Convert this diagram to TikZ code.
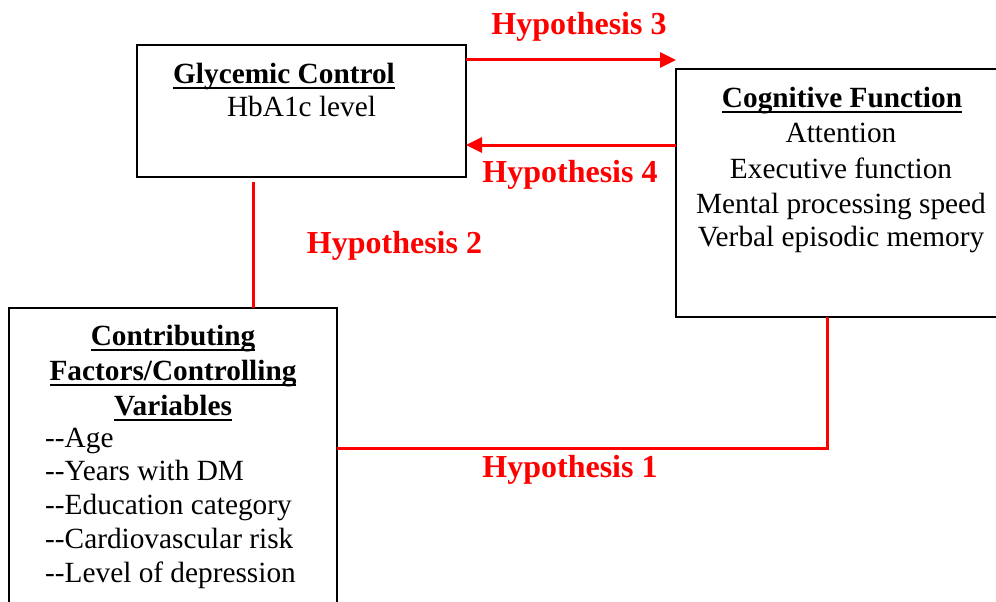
\documentclass[tikz,border=0pt]{standalone}
\usepackage{fontspec}
\setmainfont{Liberation Serif}
\usetikzlibrary{arrows.meta}
% Word-style underline at a fixed depth below the baseline
\newcommand\ulword[1]{\setbox0\hbox{#1}\rlap{\rule[-5.5pt]{\wd0}{1.8pt}}\box0}
% two separate hyphens (kept apart so they are not merged into a dash)
\newcommand\dbldash{\mbox{-}\mbox{-}}

\begin{document}
\begin{tikzpicture}[x=1pt,y=-1pt,
  frame/.style={draw=black, line width=1.8pt, outer sep=0pt, inner sep=0pt, anchor=north west},
  body/.style={font=\fontsize{29.3}{34}\selectfont, inner sep=0pt, anchor=base},
  head/.style={body, font=\fontsize{29.3}{34}\selectfont\bfseries},
  item/.style={body, anchor=base west},
  hyp/.style={font=\fontsize{32}{36}\selectfont\bfseries, text=red, inner sep=0pt, anchor=base},
  link/.style={draw=red, line width=3pt},
  harrow/.style={link, -{Triangle[length=16pt,width=15pt]}}]

\useasboundingbox (0,0) rectangle (996,602);

% boxes
\node[frame, minimum width=329pt, minimum height=132pt] (gc) at (137,45) {};
\node[frame, minimum width=334pt, minimum height=248pt] (cog) at (676,69) {};
\node[frame, minimum width=328pt, minimum height=320pt] (cf) at (9,308) {};

% glycemic control
\node[head] (gct) at (284,83) {\ulword{Glycemic Control}};
\node[body] (gc1) at (301.5,116) {HbA1c level};

% cognitive function
\node[head] (cogt) at (842,107) {\ulword{Cognitive Function}};
\node[body] (cog1) at (841,142) {Attention};
\node[body] (cog2) at (841,178) {Executive function};
\node[body] (cog3) at (841,213) {Mental processing speed};
\node[body] (cog4) at (841,246) {Verbal episodic memory};

% contributing factors
\node[head] (cft1) at (173,345) {\ulword{Contributing}};
\node[head] (cft2) at (173,380) {\ulword{Factors/Controlling}};
\node[head] (cft3) at (173,415) {\ulword{Variables}};
\node[item] (cf1) at (45,447) {\dbldash Age};
\node[item] (cf2) at (45,480) {\dbldash Years with DM};
\node[item] (cf3) at (45,514) {\dbldash Education category};
\node[item] (cf4) at (45,548) {\dbldash Cardiovascular risk};
\node[item] (cf5) at (45,582) {\dbldash Level of depression};

% connector rows and corners
\coordinate (h3row) at (0,60);
\coordinate (h4row) at (0,145);
\coordinate (h2top) at (253,182);
\coordinate (h1corner) at (827,448);

% hypothesis 3 and 4 arrows
\draw[harrow] (gc.east |- h3row) -- (cog.west |- h3row);
\draw[harrow] (cog.west |- h4row) -- (gc.east |- h4row);

% hypothesis 2 line
\draw[link] (h2top) -- (h2top |- cf.north);

% hypothesis 1 line
\draw[link] (cf.east |- h1corner) -- (h1corner) -- (h1corner |- cog.south);

% labels
\node[hyp] (l3) at (579,35) {Hypothesis 3};
\node[hyp] (l4) at (570,182) {Hypothesis 4};
\node[hyp] (l2) at (394.5,253) {Hypothesis 2};
\node[hyp] (l1) at (570,477) {Hypothesis 1};
\end{tikzpicture}
\end{document}
